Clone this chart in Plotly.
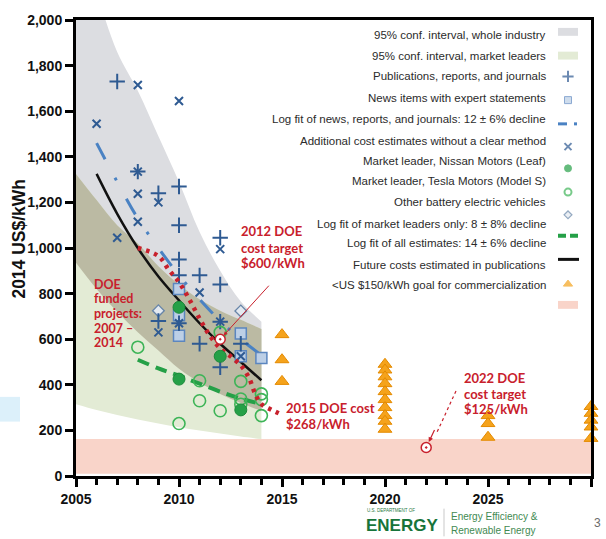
import plotly.graph_objects as go

# ---------------- data ----------------
band_years = [2005, 2006, 2007, 2008, 2009, 2010, 2011, 2012, 2013, 2014]
industry_upper = [2400, 2120, 1860, 1690, 1490, 1290, 1070, 900, 765, 677]
industry_lower = [935, 820, 720, 630, 550, 470, 410, 360, 320, 285]
leaders_upper = [1325, 1210, 1100, 1020, 920, 840, 775, 725, 685, 645]
leaders_lower = [315, 290, 268, 248, 230, 214, 200, 186, 173, 162]

pub_years = [2007, 2008, 2009, 2009, 2010, 2010, 2010, 2010, 2010, 2011, 2011,
             2012, 2012, 2012, 2012, 2013]
pub_cost = [1730, 1335, 1240, 680, 1270, 1100, 950, 880, 670, 880, 580,
            1045, 840, 677, 477, 580]

news_years = [2010, 2010, 2010, 2013, 2013, 2014]
news_cost = [820, 705, 615, 625, 525, 518]

extra_years = [2006, 2007, 2008, 2008, 2008, 2008, 2009, 2009, 2010, 2010,
               2011, 2012, 2012, 2013]
extra_cost = [1545, 1045, 1715, 1335, 1238, 1115, 1200, 630, 1645, 670,
              805, 995, 677, 525]

nissan_years = [2010, 2010, 2012, 2013]
nissan_cost = [740, 425, 525, 290]

tesla_years = [2008, 2010, 2011, 2011, 2012, 2012, 2013, 2013, 2013, 2014, 2014, 2014]
tesla_cost = [565, 230, 418, 330, 286, 630, 415, 338, 315, 360, 335, 265]

other_years = [2009, 2013]
other_cost = [725, 724]

future_years = [2015, 2015, 2015,
                2020, 2020, 2020, 2020, 2020, 2020, 2020, 2020, 2020, 2020,
                2025, 2025, 2025,
                2030, 2030, 2030, 2030, 2030]
future_cost = [620, 510, 415,
               490, 465, 435, 405, 370, 335, 300, 265, 240, 205,
               265, 230, 170,
               305, 275, 245, 215, 165]

fit_years = [2006, 2007, 2008, 2009, 2010, 2011, 2012, 2013, 2014]
fit_news = [1460, 1290, 1130, 1000, 880, 775, 680, 600, 530]
fit_all = [1325, 1150, 1000, 875, 770, 670, 580, 500, 420]

leaders_fit_years = [2008, 2009, 2010, 2011, 2012, 2013, 2014]
fit_leaders = [510, 472, 440, 405, 370, 340, 315]

doe_years = [2008, 2009, 2009.5, 2010, 2010.5, 2011, 2011.5, 2012, 2012.5,
             2013, 2013.4, 2013.7, 2014, 2014.5, 2015]
doe_cost = [1000, 965, 905, 850, 775, 690, 615, 560, 525,
            485, 430, 360, 315, 290, 268]

target_years = [2012, 2022]
target_cost = [600, 125]

goal_low, goal_high = 10, 162

legend_labels = [
    "95% conf. interval, whole industry",
    "95% conf. interval, market leaders",
    "Publications, reports, and journals",
    "News items with expert statements",
    "Log fit of news, reports, and journals: 12 \u00b1 6% decline",
    "Additional cost estimates without a clear method",
    "Market leader, Nissan Motors (Leaf)",
    "Market leader, Tesla Motors (Model S)",
    "Other battery electric vehicles",
    "Log fit of market leaders only: 8 \u00b1 8% decline",
    "Log fit of all estimates: 14 \u00b1 6% decline",
    "Future costs estimated in publications",
    "<US $150/kWh goal for commercialization",
]

# ---------------- colours ----------------
GRAY_BAND = "#dcdde1"
GREEN_BAND = "#e3ebd5"
OLIVE_BAND = "#bbbaa3"
PINK = "#f9d4c9"
BLUE_DARK = "#2e5a92"
BLUE_LINE = "#4a82c3"
SQ_FILL = "#bccfe6"
SQ_LINE = "#5b86bf"
GREEN = "#25a047"
GREEN_OPEN = "#3db457"
ORANGE = "#f5a31c"
RED = "#c8202c"

# plot-area pixel frame, used to place layout items
L, R, T, B = 76, 591, 15, 476


def fx(p):
    return (p - L) / (R - L)


def fy(p):
    return (B - p) / (B - T)


fig = go.Figure()


def add_band(lower, upper, color):
    fig.add_trace(go.Scatter(x=band_years, y=lower, mode="lines",
                             line=dict(width=0, shape="spline"),
                             hoverinfo="skip", showlegend=False))
    fig.add_trace(go.Scatter(x=band_years, y=upper, mode="lines",
                             line=dict(width=0, shape="spline"),
                             fill="tonexty", fillcolor=color,
                             hoverinfo="skip", showlegend=False))


add_band(industry_lower, industry_upper, GRAY_BAND)
add_band(leaders_lower, leaders_upper, GREEN_BAND)
add_band(industry_lower, leaders_upper, OLIVE_BAND)

# fitted trends
fig.add_trace(go.Scatter(x=fit_years, y=fit_news, mode="lines",
                         line=dict(color=BLUE_LINE, width=3, shape="spline",
                                   dash="18px,21px,3px,21px"),
                         showlegend=False))
fig.add_trace(go.Scatter(x=fit_years, y=fit_all, mode="lines",
                         line=dict(color="#111111", width=2.5, shape="spline"),
                         showlegend=False))
fig.add_trace(go.Scatter(x=leaders_fit_years, y=fit_leaders, mode="lines",
                         line=dict(color=GREEN, width=4, shape="spline",
                                   dash="12px,7px"),
                         showlegend=False))

# estimates
fig.add_trace(go.Scatter(x=other_years, y=other_cost, mode="markers",
                         marker=dict(symbol="diamond", size=9, color="#e3e9f0",
                                     line=dict(color="#6785a8", width=1.3)),
                         showlegend=False))
fig.add_trace(go.Scatter(x=news_years, y=news_cost, mode="markers",
                         marker=dict(symbol="square", size=11, color=SQ_FILL,
                                     line=dict(color=SQ_LINE, width=1.5)),
                         showlegend=False))
fig.add_trace(go.Scatter(x=pub_years, y=pub_cost, mode="markers",
                         marker=dict(symbol="cross-thin", size=11,
                                     line=dict(color=BLUE_DARK, width=2)),
                         showlegend=False))
fig.add_trace(go.Scatter(x=extra_years, y=extra_cost, mode="markers",
                         marker=dict(symbol="x-thin", size=8,
                                     line=dict(color=BLUE_DARK, width=2)),
                         showlegend=False))
fig.add_trace(go.Scatter(x=tesla_years, y=tesla_cost, mode="markers",
                         marker=dict(symbol="circle-open", size=12, color=GREEN_OPEN,
                                     line=dict(width=1.6)),
                         showlegend=False))

# DOE funded projects path
fig.add_trace(go.Scatter(x=doe_years, y=doe_cost, mode="lines",
                         line=dict(color=RED, width=4.5, shape="spline",
                                   dash="3.5px,5px"),
                         showlegend=False))

fig.add_trace(go.Scatter(x=nissan_years, y=nissan_cost, mode="markers",
                         marker=dict(symbol="circle", size=12, color=GREEN,
                                     line=dict(color="#1d8a3b", width=1)),
                         showlegend=False))
fig.add_trace(go.Scatter(x=future_years, y=future_cost, mode="markers",
                         marker=dict(symbol="triangle-up", size=12, color=ORANGE,
                                     line=dict(color="#e48a00", width=1)),
                         cliponaxis=False, showlegend=False))
fig.add_trace(go.Scatter(x=target_years, y=target_cost, mode="markers",
                         marker=dict(symbol="circle-dot", size=10, color="white",
                                     line=dict(color=RED, width=1.5)),
                         showlegend=False))

# legend symbols, drawn on an overlay axis pair spanning the plot area
leg_text_rows = [30, 51, 72, 94, 115, 137, 157.5, 178, 199, 221, 240, 262.5, 283]
leg_sym_rows = [27, 51, 72, 96, 120, 143, 165, 189, 212, 233, 257, 282, 303]
sym_x = 568
mk_rows = [2, 3, 5, 6, 7, 8, 11]
fig.add_trace(go.Scatter(
    x=[fx(sym_x)] * len(mk_rows),
    y=[fy(leg_sym_rows[i]) for i in mk_rows],
    xaxis="x2", yaxis="y2", mode="markers", cliponaxis=False,
    marker=dict(
        symbol=["cross-thin", "square", "x-thin", "circle", "circle-open",
                "diamond", "triangle-up"],
        size=[8, 7, 7, 7, 7, 6, 8],
        color=[BLUE_DARK, SQ_FILL, BLUE_DARK, GREEN, GREEN_OPEN, "#e3e9f0", ORANGE],
        line=dict(color=[BLUE_DARK, SQ_LINE, BLUE_DARK, GREEN, GREEN_OPEN,
                         "#6785a8", ORANGE],
                  width=[2, 1, 2, 1, 2, 1.2, 1]),
    ),
    showlegend=False, hoverinfo="skip"))

shapes = []
# goal band
shapes.append(dict(type="rect", xref="x", yref="y", x0=2005, x1=2030,
                   y0=goal_low, y1=goal_high, fillcolor=PINK,
                   line=dict(width=0), layer="below"))
# legend swatches and line samples
for row, col in [(leg_sym_rows[0], GRAY_BAND), (leg_sym_rows[1], GREEN_BAND),
                 (leg_sym_rows[12], PINK)]:
    shapes.append(dict(type="rect", xref="paper", yref="paper",
                       x0=fx(558), x1=fx(578), y0=fy(row + 4), y1=fy(row - 4),
                       fillcolor=col, line=dict(width=0)))
shapes.append(dict(type="line", xref="paper", yref="paper",
                   x0=fx(558), x1=fx(567), y0=fy(leg_sym_rows[4]), y1=fy(leg_sym_rows[4]),
                   line=dict(color=BLUE_LINE, width=3)))
shapes.append(dict(type="line", xref="paper", yref="paper",
                   x0=fx(574), x1=fx(577), y0=fy(leg_sym_rows[4]), y1=fy(leg_sym_rows[4]),
                   line=dict(color=BLUE_LINE, width=3)))
shapes.append(dict(type="line", xref="paper", yref="paper",
                   x0=fx(558), x1=fx(578), y0=fy(leg_sym_rows[9]), y1=fy(leg_sym_rows[9]),
                   line=dict(color=GREEN, width=4, dash="8px,4px")))
shapes.append(dict(type="line", xref="paper", yref="paper",
                   x0=fx(558), x1=fx(579), y0=fy(leg_sym_rows[10]), y1=fy(leg_sym_rows[10]),
                   line=dict(color="#111111", width=3)))
# dotted pointer to the 2022 target
shapes.append(dict(type="line", xref="paper", yref="paper",
                   x0=fx(456), x1=fx(436), y0=fy(390), y1=fy(434),
                   line=dict(color=RED, width=1.2, dash="dot")))
# small light-blue tab at the left edge
shapes.append(dict(type="rect", xref="paper", yref="paper",
                   x0=fx(0), x1=fx(20), y0=fy(421), y1=fy(396),
                   fillcolor="#dcf0fa", line=dict(width=0)))
# footer separator
shapes.append(dict(type="line", xref="paper", yref="paper",
                   x0=fx(444), x1=fx(444), y0=fy(509), y1=fy(537),
                   line=dict(color="#c9c9c9", width=1)))

ann = []
for text, row in zip(legend_labels, leg_text_rows):
    ann.append(dict(xref="paper", yref="paper", x=fx(548), y=fy(row),
                    xanchor="right", yanchor="middle", showarrow=False, text=text,
                    font=dict(family="Liberation Sans", size=11.5, color="#2b2b2b")))

red_font = dict(family="Lato", size=13, color=RED, weight="bold")


def red_lines(lines, x, rows, size=13):
    f = dict(red_font, size=size)
    for t, r in zip(lines, rows):
        ann.append(dict(xref="paper", yref="paper", x=fx(x), y=fy(r),
                        xanchor="left", yanchor="middle", showarrow=False,
                        text=t, font=f))


red_lines(["2012 DOE", "cost target", "$600/kWh"], 239, [228, 245, 261])
red_lines(["DOE", "funded", "projects:", "2007 \u2013", "2014"], 92,
          [282, 297, 312, 327, 341], size=12.5)
red_lines(["2015 DOE cost", "$268/kWh"], 284, [407, 423])
red_lines(["2022 DOE", "cost target", "$125/kWh"], 462, [377, 393, 408])

# arrow to the 2012 target
ann.append(dict(xref="x", yref="y", x=target_years[0], y=target_cost[0],
                ax=50, ay=-55, showarrow=True, arrowhead=2, arrowsize=0.8,
                arrowwidth=1, arrowcolor=RED, standoff=5, text=""))
# arrowhead for the 2022 target pointer
ann.append(dict(xref="x", yref="y", x=target_years[1], y=target_cost[1],
                ax=9, ay=-19, showarrow=True, arrowhead=2, arrowsize=0.8,
                arrowwidth=1.2, arrowcolor=RED, standoff=6, text=""))

# y-axis title
ann.append(dict(xref="paper", yref="paper", x=fx(19), y=fy(236),
                xanchor="center", yanchor="middle", showarrow=False, textangle=-90,
                text="2014 US$/kWh",
                font=dict(family="Liberation Sans", size=17.5, color="#111111",
                          weight="bold")))

# footer
ann.append(dict(xref="paper", yref="paper", x=fx(365), y=fy(511),
                xanchor="left", yanchor="middle", showarrow=False,
                text="U.S. DEPARTMENT OF",
                font=dict(family="Liberation Sans", size=4.5, color="#2a7a45")))
ann.append(dict(xref="paper", yref="paper", x=fx(364), y=fy(526),
                xanchor="left", yanchor="middle", showarrow=False, text="ENERGY",
                font=dict(family="Liberation Sans", size=17, color="#17743a",
                          weight="bold")))
ann.append(dict(xref="paper", yref="paper", x=fx(449), y=fy(517),
                xanchor="left", yanchor="middle", showarrow=False,
                text="Energy Efficiency &",
                font=dict(family="Liberation Sans", size=10, color="#3f8a52")))
ann.append(dict(xref="paper", yref="paper", x=fx(449), y=fy(531),
                xanchor="left", yanchor="middle", showarrow=False,
                text="Renewable Energy",
                font=dict(family="Liberation Sans", size=10, color="#3f8a52")))
ann.append(dict(xref="paper", yref="paper", x=fx(597), y=fy(524),
                xanchor="center", yanchor="middle", showarrow=False, text="3",
                font=dict(family="Liberation Sans", size=12, color="#6b6b6b")))

tick_font = dict(family="Liberation Sans", size=14, color="#111111", weight="bold")

fig.update_layout(
    width=606, height=539,
    margin=dict(l=L, r=606 - R, t=T, b=539 - B),
    paper_bgcolor="white", plot_bgcolor="white",
    showlegend=False,
    xaxis=dict(range=[2005, 2030], tickvals=[2005, 2010, 2015, 2020, 2025, 2030],
               ticks="outside", ticklen=8, tickwidth=3, tickcolor="black",
               minor=dict(dtick=1, ticks="outside", ticklen=6, tickwidth=2.5,
                          tickcolor="black"),
               showline=True, linewidth=3, linecolor="black", mirror=True,
               showgrid=False, zeroline=False, tickfont=tick_font),
    yaxis=dict(range=[0, 2000], dtick=200, tickformat=",d",
               ticks="outside", ticklen=8, tickwidth=3, tickcolor="black",
               showline=True, linewidth=3, linecolor="black", mirror=True,
               showgrid=False, zeroline=False, tickfont=tick_font),
    xaxis2=dict(range=[0, 1], overlaying="x", visible=False, fixedrange=True),
    yaxis2=dict(range=[0, 1], overlaying="y", visible=False, fixedrange=True),
    shapes=shapes,
    annotations=ann,
)

fig.write_html("out.html")
